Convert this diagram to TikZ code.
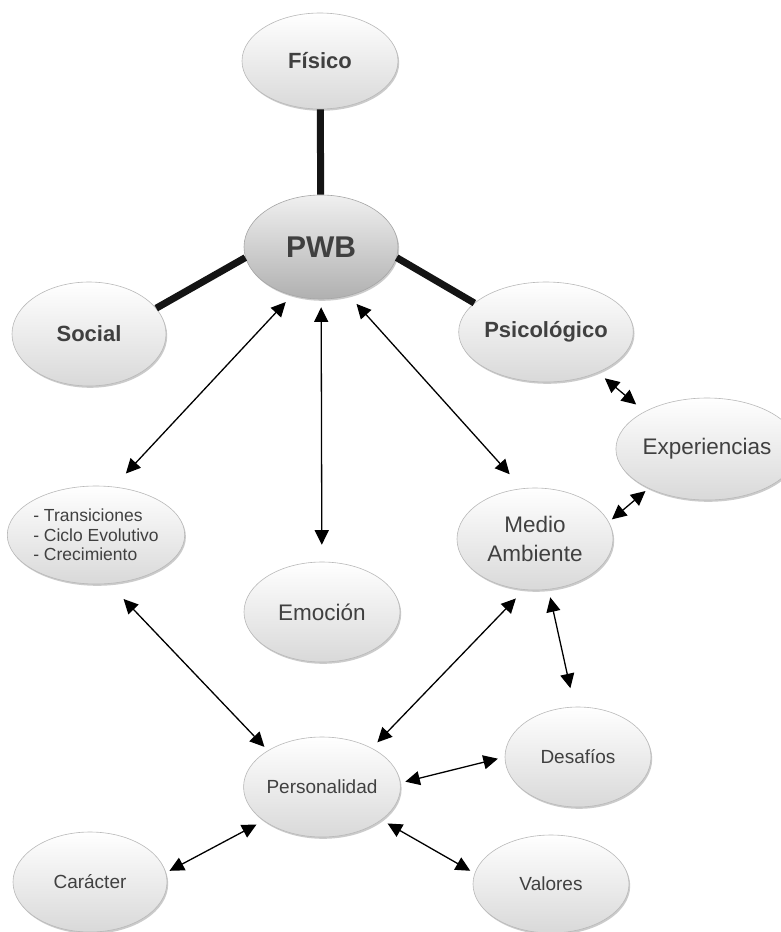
\documentclass[tikz,border=0pt]{standalone}
\usepackage{fontspec}
\setmainfont{Liberation Sans}
\usetikzlibrary{arrows.meta,shadows,shapes.geometric}
\definecolor{txt}{HTML}{404040}
\begin{document}
\begin{tikzpicture}[x=1pt,y=-1pt,
  bub/.style={ellipse, draw=gray!55, line width=0.6pt, top color=white, bottom color=gray!30,
    text=txt, inner sep=0pt, minimum width=154pt, minimum height=100pt,
    drop shadow={shadow xshift=1.2pt, shadow yshift=-1.8pt, opacity=0.5, fill=gray!80}},
  hub/.style={bub, top color=gray!12, bottom color=gray!62, draw=gray!70},
  bigb/.style={font=\fontsize{22}{26}\selectfont\bfseries},
  bigr/.style={font=\fontsize{22.5}{27}\selectfont},
  midr/.style={font=\fontsize{19}{22}\selectfont},
  thickline/.style={line width=7pt, black!92},
  arr/.style={{Triangle[length=14.5pt,width=14pt]}-{Triangle[length=14.5pt,width=14pt]}, line width=1.3pt, black}]
\useasboundingbox[fill=white] (0,0) rectangle (780,932);

\node[bub, bigb, minimum width=156pt, minimum height=96pt] (fis) at (320,61) {Físico};
\node[hub, font=\fontsize{30}{34}\selectfont\bfseries, minimum width=154pt, minimum height=104pt] (pwb) at (321,247) {PWB};
\node[bub, bigb, minimum height=104pt] (soc) at (89,334) {Social};
\node[bub, bigb, minimum width=152pt] (psi) at (546,332) {Psicológico};
\node[bub, bigr, minimum width=150pt, minimum height=102pt] (exp) at (707,449) {Experiencias};
\node[bub, align=left, font=\fontsize{17.5}{19.5}\selectfont, minimum width=152pt, minimum height=98pt] (lst) at (96,535) {- Transiciones\\- Ciclo Evolutivo\\- Crecimiento};
\node[bub, bigr, align=center, font=\fontsize{22.5}{29}\selectfont, minimum width=156pt, minimum height=102pt] (med) at (535,539) {Medio\\Ambiente};
\node[bub, bigr, minimum width=156pt] (emo) at (322,612) {Emoción};
\node[bub, midr, minimum width=146pt] (des) at (578,757) {Desafíos};
\node[bub, midr, minimum width=156pt] (per) at (322,787) {Personalidad};
\node[bub, midr, minimum width=154pt] (car) at (90,882) {Carácter};
\node[bub, midr, minimum width=156pt, minimum height=98pt] (val) at (551,884) {Valores};

\draw[thickline] (fis) -- (pwb);
\draw[thickline] (soc.21) -- (pwb.188);
\draw[thickline] (pwb.352) -- (psi.158);

\draw[arr, shorten <=9pt, shorten >=18pt] (pwb.239) -- (lst.70);
\draw[arr, shorten <=8pt, shorten >=17pt] (pwb) -- (emo);
\draw[arr, shorten <=11pt, shorten >=19pt] (pwb.300) -- (med.104);
\draw[arr, shorten <=9pt, shorten >=11pt] (psi.322) -- (exp.149);
\draw[arr, shorten <=4pt, shorten >=4pt] (exp.214) -- (med.13);
\draw[arr, shorten <=21pt, shorten >=5pt] (lst.285) -- (per.146);
\draw[arr, shorten <=12pt, shorten >=8pt] (med.258) -- (per.38);
\draw[arr, shorten <=8pt, shorten >=19pt] (med.285) -- (des.94);
\draw[arr, shorten <=5pt, shorten >=7pt] (per.3) -- (des.180);
\draw[arr, shorten <=7pt, shorten >=5pt] (per.331) -- (val.172);
\draw[arr, shorten <=8pt, shorten >=4pt] (per.210) -- (car.7);
\end{tikzpicture}
\end{document}
